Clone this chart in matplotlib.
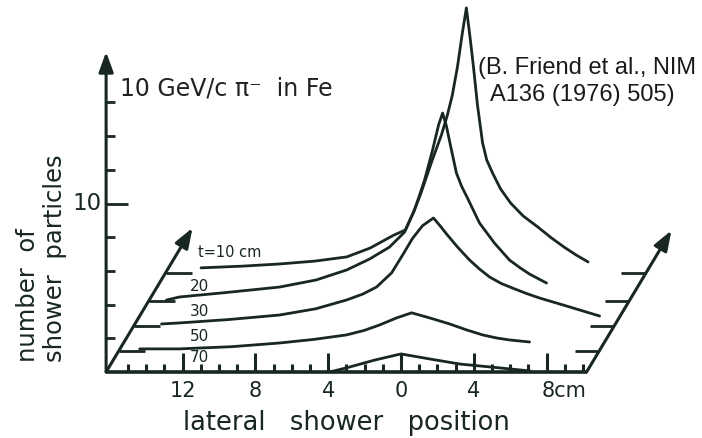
import matplotlib
matplotlib.use('Agg')
import matplotlib.pyplot as plt

ink = '#18271f'

# depth layers (drawing offset of each profile along the oblique axis) and their labels
depth_labels = ['t=10 cm', '20', '30', '50', '70']
depth_offset = [5.88, 4.21, 2.73, 1.25, 0.0]

# lateral position (cm) / number of shower particles
t10_x = [-14.25, -12.0, -9.94, -8.0, -6.24, -4.95, -3.68, -3.02, -2.60, -2.20, -1.54, -1.04, -0.71,
         -0.44, -0.16, 0.11, 0.33, 0.55, 0.72, 0.94, 1.22, 1.45, 1.77, 2.20, 2.76, 3.45, 4.25,
         5.0, 5.69, 6.35, 7.02]
t10_y = [0.30, 0.40, 0.53, 0.70, 0.95, 1.48, 2.23, 2.55, 3.55, 4.63, 6.71, 8.19, 9.38,
         10.56, 12.23, 14.24, 15.73, 13.83, 12.23, 9.97, 7.72, 6.70, 5.93, 5.00, 4.15, 3.38, 2.73,
         2.08, 1.54, 1.07, 0.65]

t20_x = [-15.22, -14.51, -12.0, -9.01, -7.0, -5.33, -4.07, -2.97, -2.14, -1.59, -1.04, -0.60,
         -0.27, -0.05, 0.16, 0.38, 0.71, 1.00, 1.32, 1.98, 2.80, 3.63, 4.20, 4.73, 5.66]
t20_y = [0.06, 0.24, 0.50, 0.83, 1.25, 1.84, 2.49, 3.20, 4.09, 5.40, 7.18, 8.96,
         10.45, 11.16, 10.39, 9.26, 7.60, 6.80, 6.11, 4.63, 3.44, 2.43, 1.98, 1.60, 1.07]

t30_x = [-14.67, -13.68, -11.0, -8.19, -6.2, -4.51, -3.60, -2.86, -2.03, -1.43, -0.88, -0.33,
         0.27, 0.60, 0.99, 1.59, 2.25, 2.80, 3.35, 4.00, 4.73, 5.40, 6.10, 7.75, 9.40]
t30_y = [0.12, 0.18, 0.38, 0.65, 1.02, 1.54, 1.90, 2.31, 3.15, 4.20, 5.20, 5.95,
         6.41, 5.99, 5.46, 4.69, 3.92, 3.38, 2.91, 2.52, 2.20, 1.92, 1.66, 1.13, 0.59]

t50_x = [-15.05, -12.86, -10.0, -7.36, -5.5, -3.68, -2.70, -1.87, -0.93, -0.11, 0.88, 1.98,
         2.90, 3.79, 4.55, 5.27, 6.37]
t50_y = [0.12, 0.12, 0.25, 0.47, 0.68, 0.95, 1.22, 1.54, 1.96, 2.26, 1.96, 1.60,
         1.25, 0.95, 0.77, 0.65, 0.53]

t70_x = [-3.90, -2.80, -1.43, 0.0, 1.59, 3.24, 5.44, 7.09]
t70_y = [0.0, 0.30, 0.71, 1.07, 0.77, 0.47, 0.24, 0.06]

curves_x = [t10_x, t20_x, t30_x, t50_x, t70_x]
curves_y = [t10_y, t20_y, t30_y, t50_y, t70_y]

lateral_ticks = list(range(-15, 11))
lateral_labels = {-12: '12', -8: '8', -4: '4', 0: '0', 4: '4'}
height_ticks = [2, 4, 6, 8, 10, 12, 14, 16]

x_left, x_right = -16.2, 10.2
slope = 0.555   # lateral shift per unit of depth (oblique axes)

fig = plt.figure(figsize=(7.02, 4.38), dpi=100)
ax = fig.add_axes([0, 0, 1, 1])
ax.set_xlim(-22.03, 16.54)
ax.set_ylim(-3.92, 22.08)
ax.axis('off')

arrow = dict(arrowstyle='-|>,head_length=0.55,head_width=0.2', color=ink, lw=2.2,
             mutation_scale=22, shrinkA=0, shrinkB=0)

# vertical axis
ax.annotate('', xy=(x_left, 19.0), xytext=(x_left, 0), arrowprops=arrow)
for h in height_ticks:
    length = 1.2 if h == 10 else 0.5
    ax.plot([x_left, x_left + length], [h, h], color=ink, lw=2.0, solid_capstyle='butt')
ax.text(x_left - 0.25, 10, '10', ha='right', va='center', fontsize=16.5, color=ink)

# base line with ticks
ax.plot([x_left, x_right], [0, 0], color=ink, lw=2.6, solid_capstyle='butt', zorder=3)
for t in lateral_ticks:
    tall = 1.15 if t % 4 == 0 else 0.5
    ax.plot([t, t], [0, tall], color=ink, lw=2.2, solid_capstyle='butt', zorder=3)
for t, s in lateral_labels.items():
    ax.text(t, -1.15, s, ha='center', va='center', fontsize=15, color=ink)
ax.text(7.75, -1.15, '8cm', ha='left', va='center', fontsize=15, color=ink)

# oblique depth axes
ax.annotate('', xy=(x_left + slope * 8.55, 8.55), xytext=(x_left, 0), arrowprops=arrow)
ax.annotate('', xy=(x_right + slope * 8.4, 8.4), xytext=(x_right, 0), arrowprops=arrow)
for d in depth_offset[:-1]:
    xl = x_left + slope * d
    ax.plot([xl, xl + 1.45], [d, d], color=ink, lw=2.0, solid_capstyle='butt')
    xr = x_right + slope * d
    ax.plot([xr - 1.35, xr], [d, d], color=ink, lw=2.0, solid_capstyle='butt')

# shower profiles
for xs, ys, d in zip(curves_x, curves_y, depth_offset):
    ax.plot([x + slope * d for x in xs], [y + d for y in ys], color=ink, lw=2.0,
            solid_joinstyle='round', solid_capstyle='round')

for i, (lab, d) in enumerate(zip(depth_labels, depth_offset)):
    if i == 0:
        ax.text(-11.15, d + 1.22, lab, ha='left', va='center', fontsize=10.5, color=ink)
    else:
        ax.text(-11.6, d + 0.85, lab, ha='left', va='center', fontsize=11, color=ink)

# texts
ax.text(-15.44, 16.85, '10 GeV/c π⁻  in Fe', ha='left', va='center', fontsize=17, color='#222222')
ax.text(4.23, 18.04, '(B. Friend et al., NIM', ha='left', va='center', fontsize=17,
        family='Liberation Sans', color='#1a1a1a')
ax.text(4.89, 16.44, 'A136 (1976) 505)', ha='left', va='center', fontsize=17,
        family='Liberation Sans', color='#1a1a1a')
ax.text(-20.49, 0.59, 'number  of', rotation=90, ha='center', va='bottom', fontsize=17.5, color=ink)
ax.text(-19.0, 0.59, 'shower  particles', rotation=90, ha='center', va='bottom', fontsize=17.5, color=ink)
ax.text(-3.02, -3.03, 'lateral   shower   position', ha='center', va='center', fontsize=18.5, color=ink)

fig.savefig('out.png', dpi=100, facecolor='white')
